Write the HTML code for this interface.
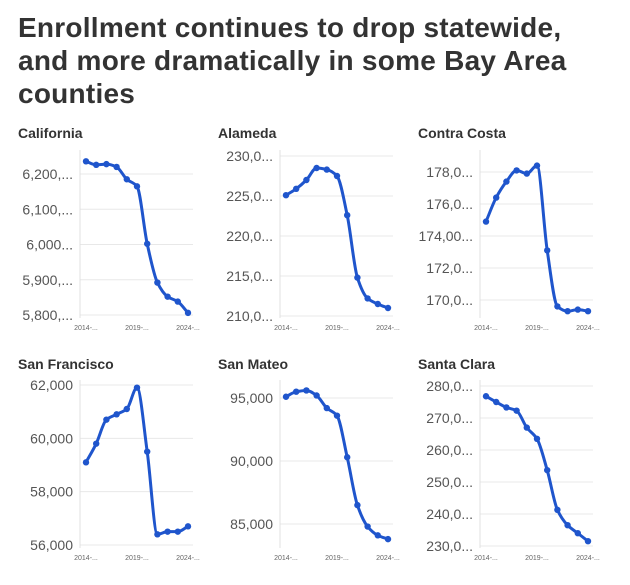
<!DOCTYPE html>
<html><head><meta charset="utf-8">
<style>
body{margin:0;background:#fff;width:630px;height:585px;overflow:hidden;font-family:"Liberation Sans",sans-serif}
h1{position:absolute;left:18px;top:11px;margin:0;font-size:28px;line-height:33px;font-weight:bold;color:#333;width:560px;letter-spacing:0.25px}
svg{position:absolute;left:0;top:0}
</style></head>
<body>
<h1>Enrollment continues to drop statewide, and more dramatically in some Bay Area counties</h1>
<svg id="c" width="630" height="585"></svg>
<script>
const years=["2014-15","2015-16","2016-17","2017-18","2018-19","2019-20","2020-21","2021-22","2022-23","2023-24","2024-25"];
const xTickLabels=["2014-...","2019-...","2024-..."];
const xTickIdx=[0,5,10];
const names=["California","Alameda","Contra Costa","San Francisco","San Mateo","Santa Clara"];
const california=[6236000,6226000,6228000,6220000,6185000,6165000,6002000,5892000,5852000,5838000,5806000];
const alameda=[225100,225900,227000,228500,228300,227500,222600,214800,212200,211500,211000];
const contraCosta=[174900,176400,177400,178100,177900,178400,173100,169600,169300,169400,169300];
const sanFrancisco=[59100,59800,60700,60900,61100,61900,59500,56400,56500,56500,56700];
const sanMateo=[95100,95500,95600,95200,94200,93600,90300,86500,84800,84100,83800];
const santaClara=[276800,275000,273300,272300,267000,263500,253700,241300,236500,234000,231500];
const caTicks=[5800000,5900000,6000000,6100000,6200000];
const alTicks=[210000,215000,220000,225000,230000];
const ccTicks=[170000,172000,174000,176000,178000];
const sfTicks=[56000,58000,60000,62000];
const smTicks=[85000,90000,95000];
const scTicks=[230000,240000,250000,260000,270000,280000];
const caLabels=["5,800,...","5,900,...","6,000...","6,100,...","6,200,..."];
const alLabels=["210,0...","215,0...","220,0...","225,0...","230,0..."];
const ccLabels=["170,0...","172,0...","174,00...","176,0...","178,0..."];
const sfLabels=["56,000","58,000","60,000","62,000"];
const smLabels=["85,000","90,000","95,000"];
const scLabels=["230,0...","240,0...","250,0...","260,0...","270,0...","280,0..."];

const series=[california,alameda,contraCosta,sanFrancisco,sanMateo,santaClara];
const ticks=[caTicks,alTicks,ccTicks,sfTicks,smTicks,scTicks];
const labels=[caLabels,alLabels,ccLabels,sfLabels,smLabels,scLabels];
const layout=[
 [5800000,6200000,315,174],[210000,230000,316,156],[170000,178000,300,172],
 [56000,62000,545,385],[85000,95000,524,398],[230000,280000,546,386]];
const svg=document.getElementById('c');
const NS="http://www.w3.org/2000/svg";
function mk(t,a){const e=document.createElementNS(NS,t);for(const k in a)e.setAttribute(k,a[k]);svg.appendChild(e);return e;}
function monotone(pts){
  const n=pts.length,dx=[],s=[],m=[];
  for(let i=0;i<n-1;i++){dx[i]=pts[i+1][0]-pts[i][0];s[i]=(pts[i+1][1]-pts[i][1])/dx[i];}
  m[0]=s[0];m[n-1]=s[n-2];
  for(let i=1;i<n-1;i++){m[i]=(s[i-1]*s[i]<=0)?0:(3*(dx[i-1]+dx[i]))/((2*dx[i]+dx[i-1])/s[i-1]+(dx[i]+2*dx[i-1])/s[i]);}
  let d='M'+pts[0].join(',');
  for(let i=0;i<n-1;i++){const h=dx[i]/3;
    d+=' C'+(pts[i][0]+h)+','+(pts[i][1]+m[i]*h)+' '+(pts[i+1][0]-h)+','+(pts[i+1][1]-m[i+1]*h)+' '+pts[i+1].join(',');}
  return d;
}
for(let p=0;p<6;p++){
  const col=p%3,row=Math.floor(p/3);
  const ox=col*200, top=row===0?150:380, bot=row===0?318:548;
  const [d0,d1,p0,p1]=layout[p];
  const y=v=>p0+(v-d0)*(p1-p0)/(d1-d0);
  const x=i=>ox+86+i*(102/(years.length-1));
  const t=mk('text',{x:ox+18,y:row===0?138:369,'font-size':14,'font-weight':'bold',fill:'#333'});
  t.textContent=names[p];
  
  
  ticks[p].forEach((tv,i)=>{
    const g=mk('line',{x1:ox+80,x2:ox+193,y1:y(tv),y2:y(tv),stroke:'#e8e8e8','stroke-width':1});
    
    
    const l=mk('text',{x:ox+73,y:y(tv)+5,'font-size':14,fill:'#555','text-anchor':'end'});
    l.textContent=labels[p][i];
    
    
  });
  const ax=mk('line',{x1:ox+80,x2:ox+80,y1:top,y2:bot,stroke:'#e0e0e0','stroke-width':1});
  
  
  xTickIdx.forEach((xi,i)=>{
    const l=mk('text',{x:x(xi),y:bot+12,'font-size':7,fill:'#666','text-anchor':'middle'});
    l.textContent=xTickLabels[i];
    
    
  });
  const pts=series[p].map((v,i)=>[x(i),y(v)]);
  const ln=mk('path',{d:monotone(pts),fill:'none',stroke:'#1f55cc','stroke-width':3});
  
  
  pts.forEach(pt=>{
    const c=mk('circle',{cx:pt[0],cy:pt[1],r:3.2,fill:'#1f55cc'});
    
    
  });
}
</script>
</body></html>
